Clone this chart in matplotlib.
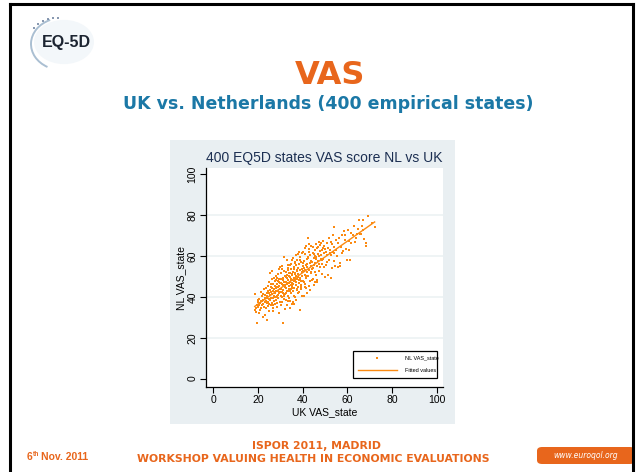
import matplotlib
matplotlib.use("Agg")

import matplotlib.pyplot as plt
from matplotlib.patches import Rectangle, FancyBboxPatch, Arc, Circle
from matplotlib.lines import Line2D
import numpy as np

# ---------------------------------------------------------------------------
# Data: UK and NL VAS scores for the 400 EQ-5D states
# ---------------------------------------------------------------------------
uk_vas = [
    18.5, 18.8, 19.0, 19.2, 19.4, 19.6, 19.8, 19.9,
    20.1, 20.3, 20.5, 20.6, 20.8, 21.0, 21.2, 21.3, 21.5, 21.7, 21.8, 21.9,
    22.0, 22.1, 22.3, 22.4, 22.6, 22.7, 22.9, 23.0, 23.1, 23.3, 23.4, 23.6, 23.7, 23.8, 23.9, 24.0,
    24.1, 24.2, 24.3, 24.4, 24.5, 24.6, 24.7, 24.8, 24.9, 25.0, 25.1, 25.2, 25.3, 25.4, 25.5, 25.6, 25.7, 25.8, 25.9, 26.0,
    26.1, 26.2, 26.3, 26.4, 26.5, 26.6, 26.7, 26.8, 26.9, 27.0, 27.1, 27.2, 27.3, 27.4, 27.5, 27.6, 27.7, 27.8, 27.9, 28.0,
    26.35, 26.85, 27.35, 27.85,
    28.1, 28.2, 28.3, 28.4, 28.5, 28.6, 28.7, 28.8, 28.9, 29.0, 29.1, 29.2, 29.3, 29.4, 29.5, 29.6, 29.7, 29.8, 29.9, 30.0,
    28.15, 28.45, 28.75, 29.05, 29.35, 29.65, 29.95,
    30.1, 30.2, 30.3, 30.4, 30.5, 30.6, 30.7, 30.8, 30.9, 31.0, 31.1, 31.2, 31.3, 31.4, 31.5, 31.6, 31.7, 31.8, 31.9, 32.0,
    30.15, 30.45, 30.75, 31.05, 31.35, 31.65, 31.95,
    32.1, 32.2, 32.3, 32.4, 32.5, 32.6, 32.7, 32.8, 32.9, 33.0, 33.1, 33.2, 33.3, 33.4, 33.5, 33.6, 33.7, 33.8, 33.9, 34.0,
    32.15, 32.45, 32.75, 33.05, 33.35, 33.65, 33.95, 32.55, 32.85, 33.25,
    34.1, 34.2, 34.3, 34.4, 34.5, 34.6, 34.7, 34.8, 34.9, 35.0, 35.1, 35.2, 35.3, 35.4, 35.5, 35.6, 35.7, 35.8, 35.9, 36.0,
    34.15, 34.45, 34.75, 35.05, 35.35, 35.65, 35.95, 34.55, 34.85, 35.25,
    36.1, 36.2, 36.3, 36.4, 36.5, 36.6, 36.7, 36.8, 36.9, 37.0, 37.1, 37.2, 37.3, 37.4, 37.5, 37.6, 37.7, 37.8, 37.9, 38.0,
    36.15, 36.45, 36.75, 37.05, 37.35, 37.65, 37.95, 36.55,
    38.1, 38.2, 38.3, 38.5, 38.6, 38.7, 38.9, 39.0, 39.1, 39.2, 39.4, 39.5, 39.6, 39.7, 39.9, 40.0,
    38.4, 38.8, 39.3, 39.8, 38.45, 38.95, 39.45, 39.95,
    40.1, 40.2, 40.4, 40.5, 40.6, 40.8, 40.9, 41.0, 41.1, 41.3, 41.4, 41.5, 41.7, 41.8, 41.9, 42.0,
    40.3, 40.7, 41.2, 41.6, 40.85, 41.65,
    42.1, 42.2, 42.4, 42.5, 42.7, 42.8, 43.0, 43.1, 43.2, 43.4, 43.5, 43.7, 43.8, 44.0,
    42.3, 42.9, 43.3, 43.6, 43.9, 42.6,
    44.1, 44.3, 44.4, 44.6, 44.7, 44.9, 45.0, 45.2, 45.3, 45.5, 45.6, 45.8, 45.9, 46.0,
    44.5, 45.1, 45.4, 45.7,
    46.1, 46.3, 46.5, 46.6, 46.8, 47.0, 47.1, 47.3, 47.4, 47.6, 47.7, 47.9, 48.0, 46.4, 46.9, 47.5,
    48.1, 48.3, 48.5, 48.6, 48.8, 49.0, 49.1, 49.3, 49.5, 49.6, 49.8, 50.0, 48.7, 49.4,
    50.2, 50.5, 50.7, 51.0, 51.2, 51.4, 51.6, 51.8, 52.0, 50.8,
    52.2, 52.5, 52.7, 53.0, 53.2, 53.4, 53.6, 53.8, 54.0, 52.8,
    54.1, 54.4, 54.7, 55.0, 55.3, 55.6, 55.9, 54.2,
    56.2, 56.6, 57.0, 57.4, 57.8, 56.9,
    58.2, 58.6, 59.0, 59.4, 59.8, 58.8,
    60.2, 60.6, 61.0, 61.4, 61.8, 60.9,
    62.3, 62.8, 63.3, 63.8,
    64.3, 64.8, 65.2, 65.7,
    66.0, 66.5, 67.2, 67.6, 66.9,
    68.2, 68.4, 69.4,
    71.0, 72.2,
]

nl_vas = [
    33.6, 41.4, 32.8, 34.5, 27.1, 36.2, 35.0, 38.3,
    37.4, 32.0, 35.8, 39.2, 33.5, 36.9, 38.1, 42.3, 34.7, 37.8, 40.4, 36.1,
    38.6, 30.3, 41.2, 36.4, 43.8, 35.2, 39.7, 31.1, 37.3, 40.8, 34.6, 44.5, 38.0, 36.9, 42.1, 39.3,
    40.2, 28.7, 37.5, 42.9, 35.4, 45.3, 39.1, 33.0, 41.7, 47.2, 36.6, 43.4, 51.5, 38.4, 40.9, 44.8, 35.9, 42.2, 46.1, 39.6,
    41.3, 37.2, 44.6, 48.9, 35.8, 42.7, 39.4, 46.3, 33.1, 40.6, 43.9, 49.5, 38.2, 45.1, 41.8, 36.5, 47.7, 42.4, 39.9, 44.2,
    52.6, 34.7, 40.1, 48.1,
    42.8, 38.5, 46.2, 49.1, 40.3, 44.7, 36.9, 47.8, 43.1, 51.2, 39.7, 45.4, 32.3, 48.6, 41.9, 53.8, 44.0, 37.6, 46.9, 42.5,
    50.4, 35.2, 44.9, 40.8, 47.3, 54.6, 43.7,
    44.1, 40.2, 48.7, 51.9, 37.4, 46.3, 42.6, 55.2, 39.8, 45.7, 27.1, 49.4, 43.5, 41.1, 52.8, 47.1, 59.7, 38.9, 44.8, 50.3,
    36.2, 46.9, 53.7, 42.0, 48.2, 40.6, 45.3,
    45.6, 41.3, 49.8, 38.7, 52.4, 44.2, 47.5, 36.1, 50.9, 43.0, 46.8, 55.7, 40.5, 48.3, 42.9, 53.1, 45.2, 39.4, 51.6, 47.0,
    34.2, 44.6, 57.9, 49.2, 37.8, 43.7, 50.4, 41.8, 46.1, 54.3,
    47.3, 43.1, 51.6, 38.2, 55.4, 45.9, 49.0, 41.7, 53.8, 36.5, 48.5, 57.9, 44.4, 50.7, 46.2, 59.0, 42.8, 52.3, 47.7, 40.3,
    34.5, 49.9, 56.1, 45.1, 51.0, 37.4, 54.6, 43.9, 48.1, 46.6,
    49.2, 44.6, 53.5, 40.1, 57.3, 47.8, 51.0, 38.6, 55.7, 46.0, 50.2, 60.4, 43.3, 52.9, 48.6, 58.1, 45.0, 54.2, 49.7, 41.9,
    36.3, 51.8, 56.6, 47.2, 53.0, 44.1, 61.2, 48.9,
    51.3, 46.7, 55.9, 42.5, 59.6, 49.4, 33.6, 53.2, 47.9, 57.0, 44.8, 52.1, 61.5, 50.0, 40.6, 55.1,
    48.2, 58.3, 45.6, 53.9, 62.0, 49.0, 43.9, 56.5,
    52.6, 48.0, 57.4, 40.2, 54.1, 60.8, 46.3, 50.9, 63.7, 44.5, 55.6, 49.2, 58.7, 52.0, 42.1, 56.3,
    61.9, 47.1, 53.4, 64.8, 45.0, 50.3,
    54.7, 68.8, 50.1, 58.9, 45.4, 62.2, 53.0, 56.8, 43.5, 60.5, 51.7, 65.0, 55.2, 48.3,
    59.6, 63.4, 47.6, 57.7, 52.4, 66.1,
    57.2, 53.5, 61.6, 49.0, 64.3, 55.8, 45.7, 59.1, 52.2, 63.0, 56.4, 50.6, 66.0, 58.4,
    54.0, 61.1, 47.3, 60.2,
    59.3, 55.0, 63.8, 47.4, 61.2, 57.6, 66.9, 52.8, 60.1, 65.2, 54.6, 62.7, 58.5, 48.2, 64.6, 56.3,
    60.6, 66.4, 56.1, 62.9, 51.4, 64.0, 58.7, 67.3, 54.5, 61.7, 49.8, 63.5, 57.9, 65.1,
    62.1, 55.8, 66.2, 60.3, 50.5, 63.9, 58.2, 68.6, 61.4, 56.9,
    63.2, 49.4, 60.7, 65.9, 54.1, 70.3, 61.8, 57.6, 64.4, 67.0,
    74.0, 55.0, 63.1, 68.1, 59.8, 54.8, 66.5, 61.3,
    68.7, 56.6, 64.3, 70.2, 61.5, 55.3,
    62.6, 72.5, 67.8, 63.6, 58.1, 70.4,
    72.8, 67.4, 58.0, 71.3, 66.2, 62.9,
    70.2, 74.6, 67.1, 68.9,
    70.6, 73.2, 77.7, 71.0,
    70.6, 74.8, 77.7, 68.5, 72.6,
    66.6, 64.9, 79.6,
    76.2, 74.4,
]

axis_ticks = [0, 20, 40, 60, 80, 100]
grid_levels = [20, 40, 60, 80]

assert len(uk_vas) == len(nl_vas)

# ---------------------------------------------------------------------------
# Style
# ---------------------------------------------------------------------------
W, H = 640, 472
ORANGE = "#fb8a12"
SLIDE_ORANGE = "#e8661c"
SLIDE_BLUE = "#1b78a6"
PANEL = "#e9eff2"
GRID = "#eef3f5"
TITLE_BLUE = "#1c2f52"
CHART_FONT = "Liberation Sans"


def fx(x):
    return x / W


def fy(y):
    return 1 - y / H


fig = plt.figure(figsize=(W / 100, H / 100), dpi=100)
fig.set_facecolor("white")

# slide frame (left, top, right black lines)
for xs, ys in [((10, 10), (4, 472)), ((10, 633), (4, 4)), ((633, 633), (4, 472))]:
    fig.add_artist(Line2D([fx(v) for v in xs], [fy(v) for v in ys],
                          transform=fig.transFigure, color="black", lw=2.2))

# EQ-5D logo
fig.add_artist(Circle((fx(64), fy(42)), 30 / W, transform=fig.transFigure,
                      facecolor="#f3f7fa", edgecolor="none"))
fig.add_artist(Arc((fx(62), fy(44)), 62 / W, 52 / H, angle=0, theta1=110, theta2=245,
                   transform=fig.transFigure, color="#aabfd2", lw=1.4))
for dx, dy in [(34, 28), (38, 24), (43, 21), (48, 19), (53, 18), (58, 18)]:
    fig.add_artist(Circle((fx(dx), fy(dy)), 1.0 / W, transform=fig.transFigure,
                          facecolor="#34507a", edgecolor="none"))
fig.text(fx(66), fy(43), "EQ-5D", ha="center", va="center", fontsize=11.5,
         fontweight="bold", color="#1c2431", family=CHART_FONT)

# slide headings
fig.text(fx(330), fy(76), "VAS", ha="center", va="center", fontsize=23,
         fontweight="bold", color=SLIDE_ORANGE, family="DejaVu Sans")
fig.text(fx(328), fy(104), "UK vs. Netherlands (400 empirical states)", ha="center",
         va="center", fontsize=12.5, fontweight="bold", color=SLIDE_BLUE, family="DejaVu Sans")

# chart panel (Stata graph region)
fig.add_artist(Rectangle((fx(170), fy(424)), 285 / W, 284 / H, transform=fig.transFigure,
                         facecolor=PANEL, edgecolor="none", zorder=0))

ax = fig.add_axes([fx(206), fy(387), 237 / W, 219 / H])
ax.set_facecolor("white")
for lvl in grid_levels:
    ax.axhline(lvl, color=GRID, lw=1.3, zorder=0)

ax.scatter(uk_vas, nl_vas, s=2.4, marker="s", color=ORANGE, linewidths=0,
           label="NL VAS_state", zorder=2)

slope, intercept = np.polyfit(uk_vas, nl_vas, 1)
fit_x = np.array([min(uk_vas), max(uk_vas)])
ax.plot(fit_x, intercept + slope * fit_x, color=ORANGE, lw=1.0,
        label="Fitted values", zorder=3)

ax.set_xlim(-3.3, 102.8)
ax.set_ylim(-4.1, 103.1)
ax.set_xticks(axis_ticks)
ax.set_yticks(axis_ticks)
ax.set_xticklabels([str(t) for t in axis_ticks], family=CHART_FONT)
ax.set_yticklabels([str(t) for t in axis_ticks], rotation=90, va="center", family=CHART_FONT)
ax.tick_params(direction="out", length=4, width=0.8, labelsize=7.5, pad=2, colors="black")
for side in ("top", "right"):
    ax.spines[side].set_visible(False)
for side in ("left", "bottom"):
    ax.spines[side].set_linewidth(0.9)

ax.set_xlabel("UK VAS_state", fontsize=7.5, labelpad=1, family=CHART_FONT)
ax.set_ylabel("NL VAS_state", fontsize=7.5, labelpad=1, family=CHART_FONT)
ax.set_title("400 EQ5D states VAS score NL vs UK", fontsize=10, color=TITLE_BLUE,
             pad=4, family=CHART_FONT)

leg = ax.legend(loc="lower left", bbox_to_anchor=(0.608, 0.027, 0.379, 0.128),
                mode="expand", handlelength=7, handletextpad=1.5,
                labelspacing=1.4, borderpad=0.9, scatterpoints=1, fancybox=False,
                framealpha=1, edgecolor="black", prop={"family": CHART_FONT, "size": 4})
leg.get_frame().set_linewidth(0.9)

# footer
fig.text(fx(27), fy(457), "6", ha="left", va="center", fontsize=7.5, fontweight="bold",
         color=SLIDE_ORANGE, family=CHART_FONT)
fig.text(fx(32.5), fy(454), "th", ha="left", va="center", fontsize=4.8, fontweight="bold",
         color=SLIDE_ORANGE, family=CHART_FONT)
fig.text(fx(41), fy(457), "Nov. 2011", ha="left", va="center", fontsize=7.5, fontweight="bold",
         color=SLIDE_ORANGE, family=CHART_FONT)
fig.text(fx(316), fy(446), "ISPOR 2011, MADRID", ha="center", va="center", fontsize=7.8,
         fontweight="bold", color=SLIDE_ORANGE, family="DejaVu Sans")
fig.text(fx(313), fy(459), "WORKSHOP VALUING HEALTH IN ECONOMIC EVALUATIONS", ha="center",
         va="center", fontsize=7.8, fontweight="bold", color=SLIDE_ORANGE, family="DejaVu Sans")

fig.add_artist(FancyBboxPatch((fx(537), fy(464)), 98 / W, 17 / H,
                              boxstyle="round,pad=0,rounding_size=0.008",
                              transform=fig.transFigure, facecolor=SLIDE_ORANGE,
                              edgecolor="none"))
fig.text(fx(586), fy(455.5), "www.euroqol.org", ha="center", va="center", fontsize=5.5,
         style="italic", color="white", family="DejaVu Sans")

fig.savefig("out.png", dpi=100, facecolor="white")
